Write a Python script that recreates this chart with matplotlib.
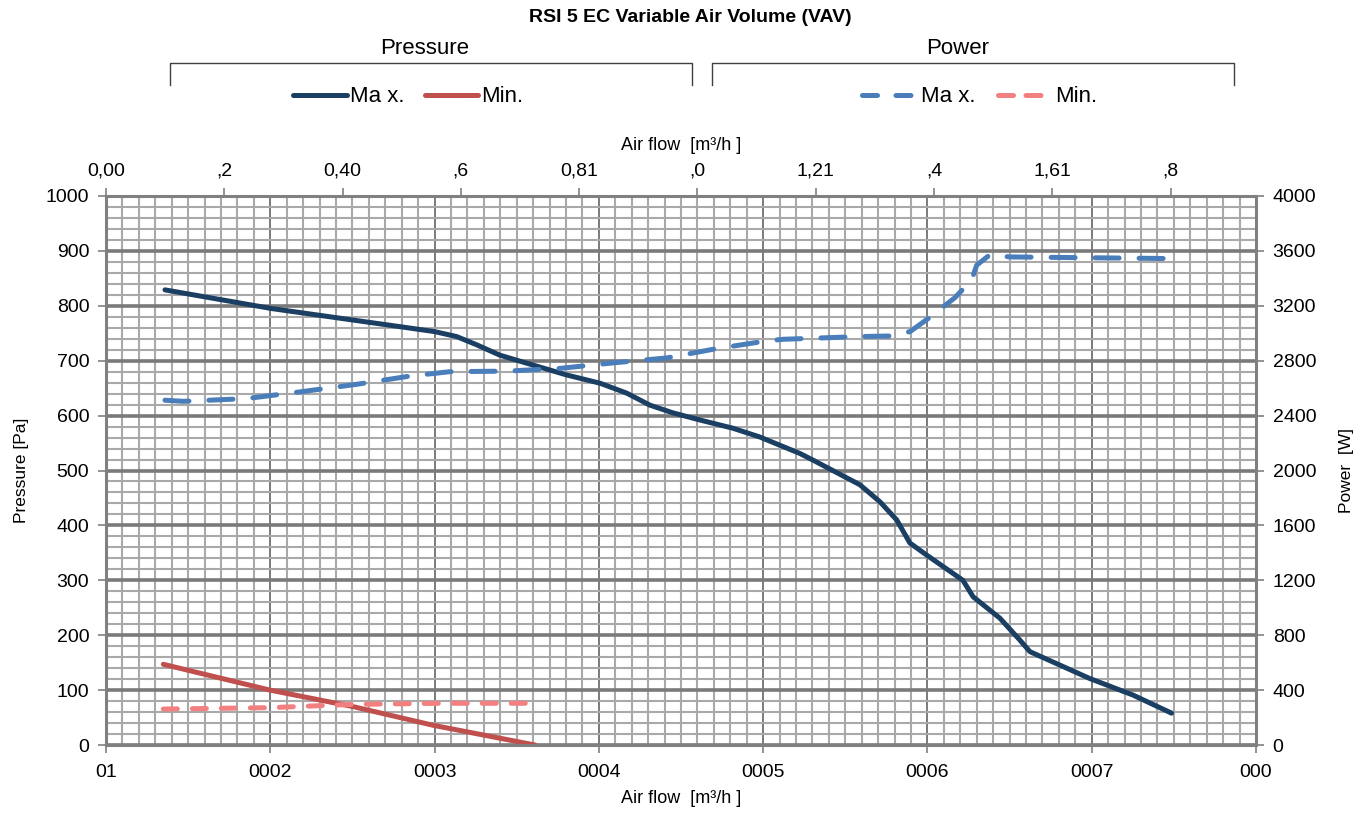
import matplotlib
matplotlib.use("Agg")
import matplotlib.pyplot as plt
from matplotlib.lines import Line2D
from matplotlib.ticker import MultipleLocator

plt.rcParams['font.family'] = ['Liberation Sans', 'DejaVu Sans']

# airflow [m3/h] vs pressure [Pa] / power [W]
max_p_flow = [1359, 2008, 2789, 3000, 3134, 3256, 3398, 3600, 3804, 4007, 4169, 4311,
              4451, 4615, 4816, 4980, 5224, 5303, 5589, 5711, 5813, 5893, 5995, 6216,
              6278, 6441, 6563, 6624, 6989, 7251, 7486]
max_p = [829, 795, 762, 753, 744, 729, 710, 692, 674, 659, 641, 619,
         605, 592, 577, 561, 531, 519, 474, 443, 410, 368, 346, 300,
         270, 231, 191, 170, 121, 91, 58]

min_p_flow = [1349, 1998, 2503, 2990, 3611]
min_p = [147, 100, 70, 36, 0]

max_w_flow = [1359, 1470, 1856, 2201, 2526, 2850, 3094, 3439, 3763, 4087, 4412, 4717,
              5021, 5122, 5589, 5772, 5894, 6015, 6168, 6269, 6300, 6380, 6502, 7494]
max_w = [2512, 2504, 2524, 2576, 2628, 2688, 2720, 2724, 2744, 2784, 2820, 2888,
         2944, 2956, 2976, 2980, 3012, 3116, 3260, 3388, 3496, 3572, 3556, 3544]

min_w_flow = [1349, 1998, 2503, 3033, 3611]
min_w = [262, 272, 296, 304, 304]

bottom_ticks = [1000, 2000, 3000, 4000, 5000, 6000, 7000, 8000]
bottom_labels = ['01', '0002', '0003', '0004', '0005', '0006', '0007', '000']
top_ticks = [0.0, 0.2, 0.4, 0.6, 0.8, 1.0, 1.2, 1.4, 1.6, 1.8]
top_labels = ['0,00', ',2', '0,40', ',6', '0,81', ',0', '1,21', ',4', '1,61', ',8']

c_max_p = '#1b3f62'
c_min_p = '#c0504d'
c_max_w = '#4a7ebb'
c_min_w = '#f28080'
grey = '#808080'

W, H = 1370, 817
fig = plt.figure(figsize=(W / 100, H / 100), dpi=100)


def px(x, y):
    return x / W, 1 - y / H


ax = fig.add_axes([106 / W, 1 - 745 / H, 1150 / W, 549 / H])
ax.set_xlim(1000, 8000)
ax.set_ylim(0, 1000)
ax.set_xticks(bottom_ticks, bottom_labels)
ax.set_yticks(range(0, 1001, 100))
ax.xaxis.set_minor_locator(MultipleLocator(100))
ax.yaxis.set_minor_locator(MultipleLocator(20))
ax.grid(which='minor', color='#a9a9a9', lw=1.5)
ax.grid(which='major', axis='x', color='#7a7a7a', lw=1.4)
ax.grid(which='major', axis='y', color='#7a7a7a', lw=2.6)
ax.set_axisbelow(True)
ax.tick_params(which='minor', length=0)
ax.tick_params(which='major', direction='out', length=6, width=1.2, color=grey,
               labelsize=14, pad=8)
ax.tick_params(axis='y', pad=6)
for s in ax.spines.values():
    s.set_color(grey)
    s.set_linewidth(2.2)
ax.set_xlabel('Air flow  [m³/h ]', fontsize=13, labelpad=6)
ax.set_ylabel('Pressure [Pa]', fontsize=12.5, labelpad=12)

top = ax.secondary_xaxis('top', functions=(lambda v: (v - 1000) / 3600,
                                           lambda v: v * 3600 + 1000))
top.set_xticks(top_ticks, top_labels)
top.tick_params(direction='out', length=6, width=1.2, color=grey, labelsize=14, pad=6)
top.spines['top'].set_visible(False)
top.set_xlabel('Air flow  [m³/h ]', fontsize=13, labelpad=9)

ax2 = ax.twinx()
ax2.set_ylim(0, 4000)
ax2.set_yticks(range(0, 4001, 400))
ax2.tick_params(direction='out', length=6, width=1.2, color=grey, labelsize=14, pad=6)
for s in ax2.spines.values():
    s.set_visible(False)
ax2.set_ylabel('Power  [W]', fontsize=12.5, labelpad=16)

lw = 3.6
ax.plot(max_p_flow, max_p, color=c_max_p, lw=lw, solid_capstyle='round',
        solid_joinstyle='round')
ax.plot(min_p_flow, min_p, color=c_min_p, lw=lw, solid_capstyle='round')
ax2.plot(max_w_flow, max_w, color=c_max_w, lw=lw, dash_capstyle='round',
         linestyle=(0, (4.8, 4.0)))
ax2.plot(min_w_flow, min_w, color=c_min_w, lw=lw, dash_capstyle='round',
         linestyle=(0, (2.8, 3.0)))

# title, group brackets and legends
fig.text(*px(690, 18), 'RSI 5 EC Variable Air Volume (VAV)', ha='center', va='center',
         fontsize=14, fontweight='bold')
for x0, x1, name, cx in [(170, 692, 'Pressure', 425), (712, 1234, 'Power', 958)]:
    xs, ys = zip(*[px(x0, 85), px(x0, 63), px(x1, 63), px(x1, 85)])
    fig.add_artist(Line2D(xs, ys, color='#404040', lw=1.0))
    fig.text(*px(cx, 48), name, ha='center', va='center', fontsize=16)

legend_items = [
    (293, 347, c_max_p, '-', 'Ma x.'),
    (425, 478, c_min_p, '-', 'Min.'),
    (862, 918, c_max_w, (0, (3.0, 3.7)), 'Ma x.'),
    (998, 1052, c_min_w, (0, (3.0, 2.5)), 'Min.'),
]
for x0, x1, col, ls, lab in legend_items:
    xs, ys = zip(px(x0, 95), px(x1, 95))
    fig.add_artist(Line2D(xs, ys, color=col, lw=lw, linestyle=ls,
                          solid_capstyle='round', dash_capstyle='round'))
    fig.text(*px(x1 + 3, 96), lab, ha='left', va='center', fontsize=16)

fig.savefig('out.png', dpi=100)
